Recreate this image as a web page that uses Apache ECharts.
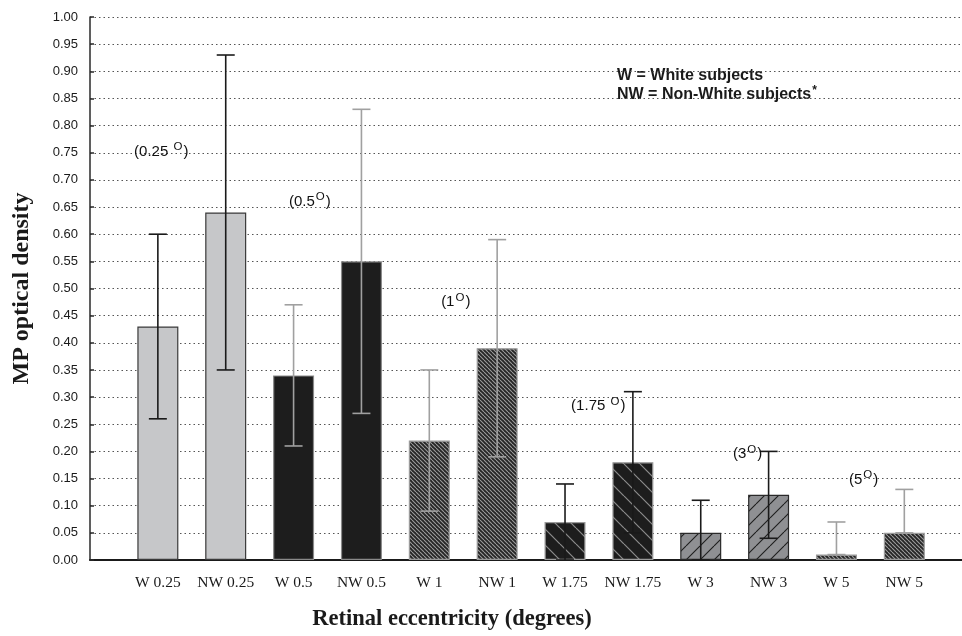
<!DOCTYPE html>
<html>
<head>
<meta charset="utf-8">
<script src="https://cdn.jsdelivr.net/npm/echarts@6/dist/echarts.min.js"></script>
<style>
  html, body { margin: 0; padding: 0; background: #fff; }
  #main { width: 962px; height: 636px; }
</style>
</head>
<body>
<div id="main"></div>
<script>
// category labels (index 0 is an empty slot before the first bar)
var categories = ['', 'W 0.25', 'NW 0.25', 'W 0.5', 'NW 0.5', 'W 1', 'NW 1',
                  'W 1.75', 'NW 1.75', 'W 3', 'NW 3', 'W 5', 'NW 5'];
var means   = [0.43, 0.64, 0.34, 0.55, 0.22, 0.39, 0.07, 0.18, 0.05, 0.12, 0.01, 0.05];
var errLow  = [0.26, 0.35, 0.21, 0.27, 0.09, 0.19, 0.00, 0.05, 0.00, 0.04, 0.01, 0.05];
var errHigh = [0.60, 0.93, 0.47, 0.83, 0.35, 0.59, 0.14, 0.31, 0.11, 0.20, 0.07, 0.13];
// fill style per bar: light, dark, dense, sparse, grey
var fills   = ['light', 'light', 'dark', 'dark', 'dense', 'dense',
               'sparse', 'sparse', 'grey', 'grey', 'dense', 'dense'];
var errKind = ['black', 'black', 'grey', 'grey', 'grey', 'grey',
               'black', 'black', 'black', 'black', 'grey', 'grey'];

// eccentricity annotations
var annoText = ['0.25 ', '0.5', '1', '1.75 ', '3', '5'];
var annoX    = [1.05, 3.24, 5.39, 7.49, 9.69, 11.40];
var annoY    = [0.752, 0.660, 0.475, 0.283, 0.195, 0.148];

function hatch(bg, fg, step, dir, lw) {
    var c = document.createElement('canvas');
    c.width = step; c.height = step;
    var ctx = c.getContext('2d');
    ctx.fillStyle = bg;
    ctx.fillRect(0, 0, step, step);
    ctx.strokeStyle = fg;
    ctx.lineWidth = lw;
    [-step, 0, step].forEach(function (off) {
        ctx.beginPath();
        if (dir > 0) { ctx.moveTo(off, step); ctx.lineTo(off + step, 0); }
        else { ctx.moveTo(off, 0); ctx.lineTo(off + step, step); }
        ctx.stroke();
    });
    return { image: c, repeat: 'repeat' };
}

var styles = {
    light:  { color: '#c6c7c9', borderColor: '#3a3a3a' },
    dark:   { color: '#1d1d1d', borderColor: '#8a8a8a' },
    dense:  { color: hatch('#262626', '#9c9c9c', 4, -1, 1.1), borderColor: '#9a9a9a' },
    sparse: { color: hatch('#1d1d1d', '#8c8c8c', 16, -1, 1.2), borderColor: '#9a9a9a' },
    grey:   { color: hatch('#8f9093', '#1d1d1d', 14, 1, 1.1), borderColor: '#2a2a2a' }
};
var errColors = { black: '#1a1a1a', grey: '#a0a0a0' };

var barData = means.map(function (v, i) {
    var s = styles[fills[i]];
    return { value: [i + 1, v], itemStyle: { color: s.color, borderColor: s.borderColor, borderWidth: 1.2 } };
});
var errData = means.map(function (v, i) { return [i + 1, errLow[i], errHigh[i], i]; });
var annoData = annoText.map(function (t, i) { return { value: [annoX[i], annoY[i]], name: t }; });

var dom = document.getElementById('main');
var myChart = echarts.init(dom, null, { renderer: 'canvas' });

var option = {
    animation: false,
    backgroundColor: '#fff',
    grid: { left: 90, right: 0, top: 17, bottom: 70 },
    xAxis: {
        type: 'value',
        min: 0,
        max: 12.85,
        interval: 1,
        name: 'Retinal eccentricity (degrees)',
        nameLocation: 'middle',
        nameGap: 48,
        nameTextStyle: {
            fontFamily: 'Liberation Serif', fontWeight: 'bold', fontSize: 22.5, color: '#1a1a1a',
            padding: [0, 148, 0, 0]
        },
        axisLine: { lineStyle: { color: '#1a1a1a', width: 2 } },
        axisTick: { show: false },
        splitLine: { show: false },
        axisLabel: {
            showMaxLabel: false,
            margin: 15,
            fontFamily: 'Liberation Serif', fontSize: 15.5, color: '#1a1a1a',
            formatter: function (v) { return categories[v] || ''; }
        }
    },
    yAxis: {
        type: 'value',
        min: 0,
        max: 1,
        interval: 0.05,
        name: 'MP optical density',
        nameLocation: 'middle',
        nameGap: 56,
        nameTextStyle: {
            fontFamily: 'Liberation Serif', fontWeight: 'bold', fontSize: 24, color: '#1a1a1a'
        },
        axisLine: { show: true, lineStyle: { color: '#2a2a2a', width: 1.5 } },
        axisTick: { show: true, inside: true, length: 4, lineStyle: { color: '#2a2a2a', width: 1.5 } },
        splitLine: { show: true, lineStyle: { color: '#555', type: [1.5, 3], width: 1 } },
        axisLabel: {
            margin: 12,
            fontFamily: 'Liberation Sans', fontSize: 13, color: '#1a1a1a',
            formatter: function (v) { return v.toFixed(2); }
        }
    },
    graphic: [{
        type: 'text',
        left: 617,
        top: 66,
        style: {
            text: 'W = White subjects\nNW = Non-White subjects{s|*}',
            fontFamily: 'Liberation Sans', fontWeight: 'bold', fontSize: 16,
            lineHeight: 19, fill: '#1a1a1a',
            rich: { s: { fontSize: 12, fontWeight: 'bold', verticalAlign: 'top', padding: [0, 0, 8, 1], fill: '#1a1a1a' } }
        }
    }],
    series: [
        {
            type: 'bar',
            barWidth: 41,
            data: barData,
            z: 2
        },
        {
            type: 'custom',
            z: 3,
            data: errData,
            renderItem: function (params, api) {
                var x = api.value(0);
                var lo = api.coord([x, api.value(1)]);
                var hi = api.coord([x, api.value(2)]);
                var col = errColors[errKind[api.value(3)]];
                var half = 9;
                var st = { stroke: col, lineWidth: 1.6 };
                return {
                    type: 'group',
                    children: [
                        { type: 'line', shape: { x1: lo[0], y1: lo[1], x2: hi[0], y2: hi[1] }, style: st },
                        { type: 'line', shape: { x1: hi[0] - half, y1: hi[1], x2: hi[0] + half, y2: hi[1] }, style: st },
                        { type: 'line', shape: { x1: lo[0] - half, y1: lo[1], x2: lo[0] + half, y2: lo[1] }, style: st }
                    ]
                };
            }
        },
        {
            type: 'scatter',
            symbolSize: 0,
            z: 4,
            itemStyle: { opacity: 1 },
            data: annoData,
            label: {
                show: true,
                position: 'inside',
                formatter: function (p) { return '(' + p.name + '{s|O})'; },
                fontFamily: 'Liberation Sans', fontSize: 15, color: '#111',
                rich: { s: { fontSize: 11.5, verticalAlign: 'top', padding: [0, 1, 9, 1], fontFamily: 'Liberation Sans', color: '#111' } }
            }
        }
    ]
};

if (option && typeof option === 'object') {
    myChart.setOption(option);
}
window.addEventListener('resize', myChart.resize);
</script>
</body>
</html>
